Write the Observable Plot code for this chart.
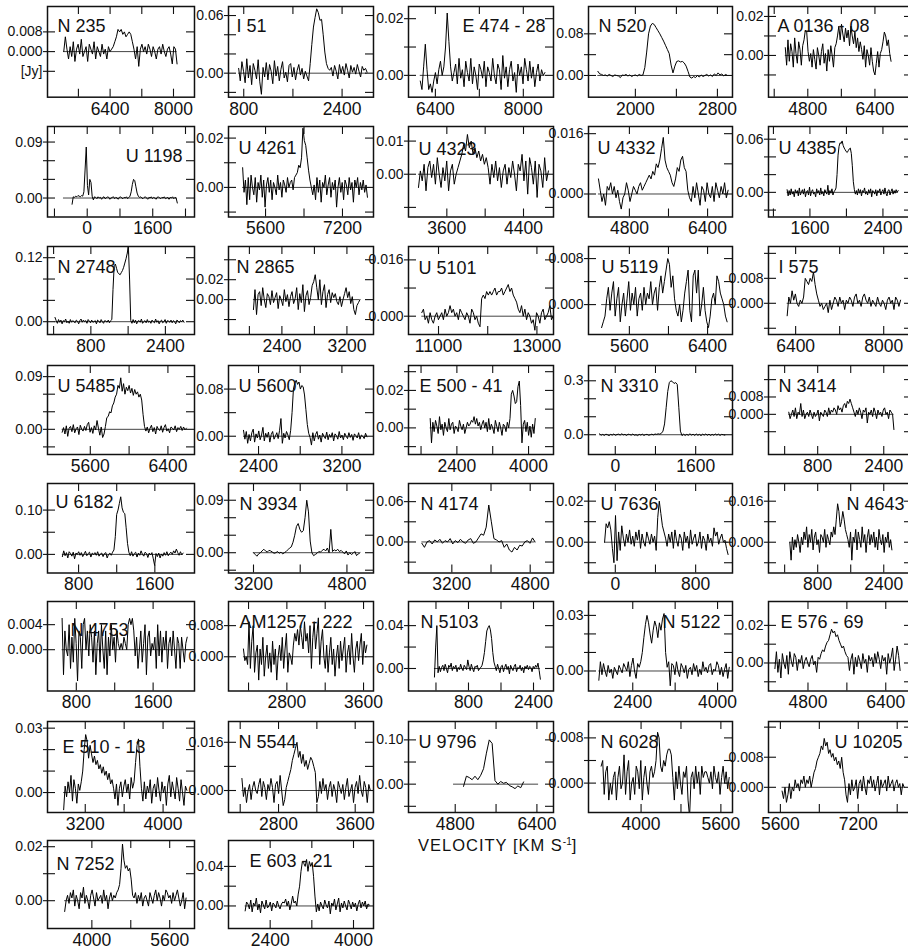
<!DOCTYPE html>
<html><head><meta charset="utf-8">
<script src="https://cdn.jsdelivr.net/npm/d3@7"></script>
<script src="https://cdn.jsdelivr.net/npm/@observablehq/plot@0.6"></script>
<style>
html,body{margin:0;padding:0;background:#fff;}
#chart{position:relative;width:908px;height:952px;overflow:hidden;background:#fff;font-family:'Liberation Sans',Arial,Helvetica,sans-serif;}
#chart svg{position:absolute;overflow:visible;background:transparent;}
#vlabel{position:absolute;left:418px;top:836px;font-size:16.5px;letter-spacing:1px;color:#111;white-space:nowrap;}
#vlabel sup{font-size:10px;vertical-align:6px;letter-spacing:0;}
</style></head>
<body><div id="chart"><div id="vlabel">VELOCITY [KM S<sup>-1</sup>]</div></div>
<script>
// ---------- galaxy names (panel order, row by row) ----------
const names = ["N 235","I 51","E 474 - 28","N 520","A 0136 - 08",
  "U 1198","U 4261","U 4323","U 4332","U 4385",
  "N 2748","N 2865","U 5101","U 5119","I 575",
  "U 5485","U 5600","E 500 - 41","N 3310","N 3414",
  "U 6182","N 3934","N 4174","U 7636","N 4643",
  "N 4753","AM1257 - 222","N 5103","N 5122","E 576 - 69",
  "E 510 - 13","N 5544","U 9796","N 6028","U 10205",
  "N 7252","E 603 - 21"];

// ---------- velocity coverage of each spectrum (km/s) ----------
const velStart = [5230,717,6125,1634,4264, -370,5124,3304,4167,1350, 30,2050,10660,5316,6246,
  5310,2256,1804,-313,100, 630,3200,2588,-107,125, 652,2347,-37,1760,4120,
  2978,2418,4963,3200,5635, 3441,1920];
const velEnd = [8090,2807,8393,2898,6784, 2200,7719,4660,6820,2567, 2800,3361,13330,6600,8306,
  6590,3440,4150,2180,2646, 1897,5024,4900,1123,2597, 1955,3635,2569,4221,6695,
  4245,3758,6139,5767,8143, 5937,4305];

// ---------- flux densities (mJy), read channel by channel from the figure ----------
const fluxN235 = [0,6,1,-3,2,-2,4,-4,1,3,-1,5,-2,0,2,-4,3,1,-1,4,-3,2,0,-2,3,-1,1,-3,2,0,1,2,4,6,9,8,9,7,8,6,7,8,7,4,1,-3,2,-6,1,3,0,2,-1,3,1,-2,2,0,-3,1,2,-1,3,0,-2,1,2,-1,-5,2,1,-5];
const fluxI51 = [5,-8,12,2,-10,15,-5,8,-12,10,3,-6,14,-9,-22,6,-4,11,-7,9,2,-11,13,-3,7,-8,4,12,-5,1,-9,8,10,-4,6,-7,3,9,-2,5,-6,2,-3,-8,10,30,48,58,67,63,55,56,40,22,10,5,3,6,-3,8,2,-6,9,0,7,-2,10,3,-5,8,1,6,-1,9,2,-4,7,3,5,1];
const fluxE474 = [-2,-5,3,11,2,-5,-3,-6,-2,1,-3,2,5,0,3,10,22,12,3,-2,1,4,-3,6,-1,2,-4,5,1,-2,6,-3,3,0,-5,4,2,-1,5,-4,3,1,-2,6,0,-3,4,2,-5,7,-1,3,-4,2,5,-2,1,-6,4,0,3,-3,6,2,-2,5,-1,3,-4,1,4,-2,2,0,1];
const fluxN520 = [8,3,2,0,1,-1,2,0,-2,1,0,-1,-4,1,0,2,-1,1,-2,0,1,-1,2,0,1,15,45,80,95,100,98,92,86,80,73,66,58,50,42,20,5,18,27,28,26,27,24,18,8,-3,-5,-2,-4,0,-3,1,-2,0,2,-1,1,-2,3,0,5,1,3,-1,2,0];
const fluxA0136 = [4,-5,8,-3,6,2,-6,9,1,-4,7,3,-5,5,8,13,12,2,-3,1,-6,3,-2,-7,4,0,-5,2,6,-4,1,-8,3,-3,5,0,-6,4,6,10,15,8,16,11,7,14,9,13,5,15,10,6,12,4,9,2,7,3,-2,5,-6,3,0,-5,4,-3,-8,-10,-4,2,-6,1,3,7,12,10,5,8,1,-3];
const fluxU1198 = [-10,2,1,3,2,4,3,2,4,3,10,45,82,20,5,30,25,3,-3,2,1,-1,2,0,1,-2,1,2,-1,0,2,1,-2,0,1,2,-1,1,0,-2,1,2,0,-1,1,0,2,-1,1,3,10,22,30,28,18,8,3,1,2,0,-1,1,2,0,-2,1,0,2,-1,1,0,-2,1,2,0,-1,1,0,2,-1,0,1,-2,1,0,2,-1,1,0,-8];
const fluxU4261 = [8,-2,3,-7,4,-5,5,0,-3,4,-6,2,-1,5,-4,3,-8,1,4,-2,3,-5,2,0,-3,5,-1,2,-4,3,1,-2,4,0,2,3,-1,4,5,6,9,8,12,24,19,17,12,7,3,0,-3,1,-5,4,-2,3,-6,2,0,5,-3,1,4,-4,2,-1,3,-8,0,4,-2,2,-5,3,1,-3,4,-1,2,-6,3,0,4,-3,2,-1,3,-2,1,-4];
const fluxU4323 = [-4,1,-2,3,-5,2,4,-1,3,-3,5,0,-4,2,-2,4,-5,1,3,-3,0,2,4,6,9,7,12,8,10,6,8,5,7,4,6,3,5,2,-3,3,-1,4,-2,2,-4,1,3,-3,2,-1,4,0,-5,3,1,6,-2,4,-6,5,2,-3,4,-7,3,1,-4,5,-2,1];
const fluxU4332 = [4,1,-2,0,-3,2,1,3,0,2,-1,1,-2,-4,-1,0,3,1,-2,0,2,1,0,2,3,1,2,3,4,5,4,6,5,8,7,9,12,15,9,7,6,5,3,2,4,7,6,9,10,7,6,1,-1,-2,2,-1,3,0,-3,2,1,-2,3,0,-1,2,-2,3,1,-1,2,0,3,-1,1];
const fluxU4385 = [3,-4,2,-3,4,-2,1,-5,3,-1,2,-4,5,-3,0,3,-2,4,-5,1,2,-3,6,-4,1,3,-2,0,-5,4,-1,2,-3,5,-2,1,-4,3,0,-2,8,-3,2,-1,4,-3,1,2,5,20,42,52,56,55,58,53,50,48,46,45,47,49,50,44,30,12,3,-2,2,-3,4,-1,3,-4,2,0,5,-2,1,-3,3,-1,4,-5,2,1,-2,3,-4,2,0,4,-3,1,3,-2,5,-1,-4,2,3,-3,1,4,-2,2,-1,3,0,2];
const fluxN2748 = [8,2,-3,4,-1,3,-4,2,0,5,-2,1,-3,4,-1,2,0,-2,3,1,-4,2,5,-1,3,0,2,-3,4,1,-2,3,-1,0,2,-4,3,1,-2,4,0,-3,2,1,-1,3,-2,2,4,60,105,108,100,92,90,88,92,96,102,110,118,128,141,80,2,-3,4,-2,3,-4,1,2,-1,5,-3,0,2,-2,4,-1,1,-3,3,0,-2,5,-1,2,-4,1,3,-2,0,4,-3,2,1,-1,3,-2,2,0,-4,3,1,-2,2,0,3,-1];
const fluxN2865 = [-10,10,-15,5,8,-6,12,0,-8,6,3,-5,9,-3,2,7,-9,4,0,-6,10,-2,5,-7,3,8,-4,1,12,-10,6,-3,15,-12,4,9,-5,2,14,18,25,12,0,20,-5,8,15,-8,5,10,-3,7,2,6,-2,-5,3,-7,0,6,12,2,8,-4,3,-10,-15,-6,-3,0];
const fluxU5101 = [1,2,-1,0,-2,1,-1,-2,0,1,-1,0,1,-1,2,0,1,3,1,2,0,1,-1,2,1,0,-1,1,0,-2,2,1,-1,0,-2,-3,5,6,5,7,6,7,6,7,8,6,7,7,8,6,7,8,9,7,8,6,5,4,2,1,3,0,2,-1,1,0,-2,-1,-4,1,0,-2,1,2,-1,0,1,3,-1,0];
const fluxU5119 = [-4,-3,-2,1,3,-1,2,4,-2,1,3,-3,0,2,-2,1,4,-1,2,0,3,-2,1,2,-1,3,0,2,1,4,0,2,3,-1,3,5,2,4,6,8,7,3,5,1,-1,-2,0,-3,-1,2,4,6,-1,-3,5,6,2,6,-2,0,3,-1,-3,-4,-2,1,2,0,5,4,2,1,0,-2,-3];
const fluxI575 = [-4,2,0,4,1,3,0,-1,1,0,2,8,7,6,8,7,10,6,3,1,-1,0,-2,-1,0,-3,1,-2,0,2,1,-1,2,0,1,-2,1,0,2,1,-1,2,3,0,1,-1,2,3,1,0,2,-1,1,0,-1,2,0,-1,1,0,-2,1,2,0,1,-2,2,1,-1,1];
const fluxU5485 = [-5,3,-8,6,-12,2,5,-4,8,-6,1,4,-9,7,0,-3,5,-2,8,12,-5,3,-7,6,-1,15,2,-10,4,-14,-8,5,20,22,30,28,40,45,55,60,75,70,88,65,78,60,72,66,75,62,70,58,68,60,64,55,60,50,25,5,-3,4,-6,2,7,-4,3,-8,5,0,-2,6,-5,3,8,-3,1,-6,4,2,-1,6,-4,3,0,5,-2,4,-1,2];
const fluxU5600 = [10,-5,8,-12,3,-8,6,12,-10,4,-3,9,-6,2,15,-8,5,-2,7,-10,3,8,-5,0,6,-4,10,30,-12,5,-3,8,2,-6,10,40,80,90,95,88,92,80,86,84,70,45,20,5,-2,-15,6,-8,3,8,-5,2,-10,5,0,-4,7,-6,3,-2,6,-8,4,1,-5,8,-3,2,-6,5,0,-4,6,-2,3,-7,4,1,-3,6,-5,2,0,-4,5,-1];
const fluxE500 = [5,-8,3,-2,4,1,-3,6,-1,2,-4,3,0,-2,5,-1,2,3,-3,1,0,-2,4,1,-1,2,-3,0,3,1,2,4,3,6,2,5,1,3,-1,2,4,0,3,-2,5,-1,2,0,-3,4,1,-2,3,0,-4,2,1,-2,3,0,5,18,20,17,13,14,22,25,12,-8,2,4,-2,3,-4,1,-5,2,-3,5];
const fluxN3310 = [5,-3,2,-4,3,0,-5,2,-2,4,-3,1,3,-2,5,-1,2,-4,3,1,-2,4,-3,0,-5,2,-2,3,-4,1,2,-3,0,3,-1,4,2,5,3,8,20,60,150,240,290,300,295,285,290,280,150,20,-5,3,-4,2,-3,5,-2,3,-4,4,-3,2,-5,3,-2,4,-3,3,-4,2,-3,4,-2,3,-4,2,0,-2];
const fluxN3414 = [1,-2,0,2,-1,3,-2,1,0,5,-1,2,-2,0,1,-1,2,0,-2,1,-1,0,2,-3,1,0,-1,2,1,-1,3,0,2,1,3,2,0,4,2,3,1,4,5,3,6,5,7,5,3,1,-1,2,0,3,1,-2,2,1,3,-4,1,0,2,-1,3,1,-2,2,0,1,-1,2,3,0,1,-2,2,1,0,-7];
const fluxU6182 = [-5,8,-3,4,-8,6,2,-4,5,-10,3,0,6,-2,4,-5,1,7,-3,2,5,-6,3,0,4,-2,6,-4,1,3,-5,2,4,-8,0,3,-2,5,10,40,90,100,115,130,105,95,92,60,25,5,-3,6,-4,2,5,-6,3,-2,8,0,-4,5,2,-7,3,-1,4,-10,-25,2,-5,3,-8,1,-4,4,-2,6,-3,2,5,0,8,3,12,4,-2,6,-1,3];
const fluxN3934 = [0,-3,-6,-2,0,3,6,3,1,4,3,1,-1,0,2,-1,1,-2,0,2,5,8,10,18,30,45,50,40,35,38,60,90,70,20,0,-5,-3,-1,2,1,4,6,3,8,0,40,2,5,3,6,2,4,1,-2,3,-4,0,-3,-1,2,-5,-2,0];
const fluxN4174 = [-2,-8,0,2,-3,3,0,4,-2,2,0,5,-3,2,-1,4,0,-2,3,5,-2,0,6,12,10,22,55,30,5,3,0,2,-8,-3,-12,-15,-8,-12,-5,-6,0,2,-2,6,0];
const fluxU7636 = [0,9,7,10,6,-3,-10,13,-9,5,-4,8,2,-2,4,0,6,-1,3,-2,5,1,6,-3,4,0,-2,5,2,-1,4,0,3,-4,12,20,14,8,5,2,-2,4,0,5,-3,6,1,-2,4,2,-4,5,0,3,-3,6,-1,2,4,-2,0,5,-3,3,1,-4,4,0,2,-2,7,3,5,-1,2,4,0,1,-3,-6];
const fluxN4643 = [0,-7,2,-3,1,-2,3,0,-4,2,-1,4,1,6,-2,3,0,5,-3,2,4,-1,1,-4,3,2,0,5,-2,3,1,-1,4,2,6,3,9,15,12,6,8,12,9,5,3,1,-2,4,-7,2,0,5,-3,4,1,-2,6,0,3,-4,2,5,-1,3,0,4,-2,2,-3,5,1,-1,3,-4,2,0,4,-2,1,-3];
const fluxN4753 = [5,-4,3,0,-1,4,-3,2,-2,5,1,-5,3,2,-3,4,5,0,3,-1,4,2,-2,3,-4,1,3,-2,4,0,-3,3,-4,2,-1,4,0,2,-2,3,1,0,1,0,2,1,0,4,5,4,5,3,-1,2,-3,0,3,-2,1,4,-4,2,3,-1,1,0,2,-3,4,-1,3,-2,2,0,3,-3,1,2,-1,3,0,-3,2,1,-3,2,0,-2,1,2];
const fluxAM1257 = [2,-1,0,-2,9,-3,4,8,-4,1,3,-6,2,-2,5,-5,0,3,-3,1,-4,4,-2,2,-6,0,3,-1,5,-3,2,6,-4,1,0,-2,3,6,4,7,3,8,5,2,9,4,6,1,8,-3,5,9,2,6,10,-2,4,7,0,-3,3,-4,1,5,-2,2,-5,0,3,-3,4,-1,2,5,-4,1,3,-2,6,0,-4,2,4,-1,3,6,-2,4,1,3];
const fluxN5103 = [-8,20,40,-4,2,-3,1,3,-2,4,0,-4,3,1,5,-2,2,0,3,-3,1,-1,4,0,-2,3,1,-1,8,2,-2,4,0,-3,2,1,3,-2,0,1,3,8,15,25,35,38,40,36,28,15,6,2,-2,4,0,-4,2,3,-3,1,4,-1,2,-5,3,0,-2,2,4,-3,1,0,3,-2,1,-4,2,0,3,-1,2,1,-3,2,0,3,1,5,-2,-10];
const fluxN5122 = [-5,5,-2,4,0,-3,3,-1,1,-4,2,0,-2,3,1,-1,4,2,0,5,-3,3,7,0,-4,4,2,5,10,18,25,30,26,20,15,22,27,24,18,26,22,28,31,10,2,5,-8,4,3,-2,5,0,-3,4,2,-1,3,-4,1,2,-2,4,0,3,-3,1,-2,5,0,2,-1,3,4,-2,1,0,5,3,-2,2,-3,1,4,-4,2];
const fluxE576 = [-3,6,-5,2,-8,5,0,-3,4,-6,6,1,-2,5,3,-4,2,0,4,-3,1,3,0,-2,2,4,-1,1,-5,3,2,5,7,6,9,11,12,15,18,16,17,14,15,12,10,8,9,6,4,3,-4,2,5,-6,3,-2,4,1,-3,5,0,2,-5,4,1,3,-2,5,0,6,2,-3,4,1,3,-6,5,0,3,8,-4,2,9,4,-4];
const fluxE510 = [-8,3,-2,5,0,8,-4,6,2,-5,4,1,5,10,20,27,24,16,22,18,14,17,13,15,11,13,9,12,8,10,6,9,4,6,2,-3,4,-6,2,5,-2,3,6,0,4,-3,7,2,5,14,22,25,12,2,-4,5,-3,3,0,6,-5,2,4,-2,7,1,-4,5,0,3,-6,4,8,-2,5,1,-3,7,2,-4,6,0,-6,3,1];
const fluxN5544 = [4,-2,1,-4,0,2,-3,1,3,0,-1,2,4,-2,3,1,-3,2,0,4,1,-4,2,3,-1,5,0,-5,-3,1,3,5,7,10,12,14,16,11,13,9,12,8,10,7,9,11,10,8,6,-4,-2,3,-1,4,0,2,-3,1,3,-2,2,0,-4,3,1,-1,2,-3,1,4,-2,0,2,-4,1,3,-1,5,0,-2,3,1,-4,2,0];
const fluxU9796 = [-5,18,15,10,18,10,20,35,70,100,92,8,0,6,2,4,-3,-6,-10,-4,-8,5];
const fluxN6028 = [3,4,-2,2,3,-3,0,-2,1,2,-3,1,3,-1,0,5,-2,2,4,-3,0,1,-2,3,2,-1,4,-3,1,3,0,-2,2,3,1,2,4,9,8,3,2,4,3,5,6,6,5,1,-3,2,-1,3,0,-2,2,1,3,-3,-6,1,2,-1,3,0,2,-2,3,1,2,2,1,0,2,-1,3,1,0,2,-2,1,3,0,2,-1,1];
const fluxU10205 = [-1,-3,0,-4,-2,1,-3,0,-1,2,0,1,-1,2,1,3,0,2,1,3,0,2,4,5,7,8,9,11,10,13,11,12,9,10,8,9,7,8,6,7,5,8,4,2,-2,-4,1,-2,2,-1,0,2,-3,1,2,-1,3,0,-2,2,1,3,0,2,-1,1,3,-2,2,0,1,2,-1,3,0,1,2,-1,1,2,0,1,-2,1,0];
const fluxN7252 = [-4,0,2,-1,3,1,4,-2,2,0,-3,3,1,5,-1,2,0,-3,2,4,1,-2,3,0,1,2,-1,4,0,2,-3,1,3,0,2,1,3,4,6,12,21,15,12,13,11,12,8,2,1,3,-1,2,0,3,-2,1,2,0,-2,3,1,-1,2,4,0,3,1,-2,2,0,4,3,1,2,-1,3,0,2,4,1,-2,0,3,-3,1];
const fluxE603 = [-5,4,2,-3,6,-6,3,0,8,-4,2,-7,5,1,-3,6,-2,0,4,-5,3,1,-2,5,0,-3,2,4,3,7,0,5,-4,2,10,3,5,0,12,20,35,45,43,40,47,35,45,40,44,30,10,-6,2,-5,4,0,-3,6,1,-2,5,-8,3,0,7,-4,2,8,-6,3,-2,5,0,-4,6,2,-3,4,-1,3,-5,2,6,-2,4,0,5,-3,2,1];

const fluxes = [fluxN235,fluxI51,fluxE474,fluxN520,fluxA0136,
  fluxU1198,fluxU4261,fluxU4323,fluxU4332,fluxU4385,
  fluxN2748,fluxN2865,fluxU5101,fluxU5119,fluxI575,
  fluxU5485,fluxU5600,fluxE500,fluxN3310,fluxN3414,
  fluxU6182,fluxN3934,fluxN4174,fluxU7636,fluxN4643,
  fluxN4753,fluxAM1257,fluxN5103,fluxN5122,fluxE576,
  fluxE510,fluxN5544,fluxU9796,fluxN6028,fluxU10205,
  fluxN7252,fluxE603];

// zero-line extent where it differs from the spectrum coverage
const zeroRange = [null,null,null,null,null, [-580,2200],null,null,null,null,
  null,null,null,null,null, null,null,null,null,null, null,null,null,null,null,
  null,null,null,null,null, null,null,[4767,6433],null,null, null,null];

// ---------- axes ----------
const xDomains = [[4820,8530],[552,2911],[5911,8549],[1543,2947],[3864,7295],
  [-970,2620],[4830,7845],[3200,4713],[3963,6910],[1146,2724],
  [-131,3025],[1743,3527],[10390,13337],[5182,6655],[5907,8523],
  [5159,6674],[2112,3503],[1320,4557],[-533,2333],[-391,3096],
  [474,2016],[2772,5255],[2315,5276],[-267,1167],[-391,3096],
  [500,2031],[2191,3704],[-676,2892],[1565,4282],[3988,6950],
  [2812,4323],[2278,3791],[3885,6725],[2946,5833],[5356,8314],
  [3088,6110],[1600,4384]];
const xTicks = [[5600,6400,7200,8000],[800,1600,2400],[6400,7200,8000],[2000,2400,2800],[4000,4800,5600,6400],
  [-800,0,800,1600,2400],[5600,6400,7200],[3600,4000,4400],[4800,5600,6400],[1200,1600,2000,2400],
  [0,800,1600,2400],[2000,2400,2800,3200],[11000,12000,13000],[5600,6000,6400],[6400,7200,8000],
  [5600,6000,6400],[2400,2800,3200],[1600,2400,3200,4000],[0,800,1600],[0,800,1600,2400],
  [800,1200,1600],[3200,4000,4800],[3200,4000,4800],[0,400,800],[0,800,1600,2400],
  [800,1200,1600],[2400,2800,3200,3600],[0,800,1600,2400],[2400,3200,4000],[4800,5600,6400],
  [3200,3600,4000],[2400,2800,3200,3600],[4800,5600,6400],[4000,4800,5600],[5600,6400,7200,8000],
  [4000,4800,5600],[2400,3200,4000]];
const xLabels = [[6400,8000],[800,2400],[6400,8000],[2000,2800],[4800,6400],
  [0,1600],[5600,7200],[3600,4400],[4800,6400],[1600,2400],
  [800,2400],[2400,3200],[11000,13000],[5600,6400],[6400,8000],
  [5600,6400],[2400,3200],[2400,4000],[0,1600],[800,2400],
  [800,1600],[3200,4800],[3200,4800],[0,800],[800,2400],
  [800,1600],[2800,3600],[800,2400],[2400,4000],[4800,6400],
  [3200,4000],[2800,3600],[4800,6400],[4000,5600],[5600,7200],
  [4000,5600],[2400,4000]];
const yDomains = [[-18.5,18.3],[-25,69.4],[-7.7,24.3],[-41.7,132.5],[-21.4,25.1],
  [-30.5,115],[-12,24.7],[-12.9,14.4],[-6.1,17.9],[-27.8,74.3],
  [-24,141],[-35,53.3],[-5.2,19.8],[-5.2,10.1],[-10,18.2],
  [-43,109],[-31,120],[-14.2,33.3],[-110,385],[-18.5,22.5],
  [-42,160],[-34.8,118.7],[-46.2,87],[-15,28.6],[-12,22.9],
  [-6.6,7.7],[-8.8,14.2],[-21,62.5],[-10.8,37.5],[-14.9,32.7],
  [-9.3,33.1],[-7.3,22.9],[-64,141.5],[-5.2,10.9],[-6.7,17.5],
  [-10.3,22.3],[-22.8,66.2]];
const yTicks = [[-8,0,8],[-20,0,20,40,60],[0,10,20],[0,40,80],[-10,0,10,20],
  [0,30,60,90],[-10,0,10,20],[-10,0,10],[0,8,16],[-20,0,20,40,60],
  [0,40,80,120],[-20,0,20,40],[0,8,16],[0,4,8],[-8,0,8,16],
  [-30,0,30,60,90],[0,40,80],[-10,0,10,20,30],[0,100,200,300],[-8,0,8,16],
  [0,50,100],[-30,0,30,60,90],[-30,0,30,60],[-10,0,10,20],[-8,0,8,16],
  [0,4],[0,8],[0,20,40],[0,10,20,30],[-10,0,10,20],
  [0,10,20,30],[0,8,16],[-50,0,50,100],[0,4,8],[0,8,16],
  [0,10,20],[0,20,40]];
const yLabelValues = [[-8,0,8],[0,60],[0,20],[0,80],[0,20],
  [0,90],[0,20],[0,10],[0,16],[0,60],
  [0,120],[0,20],[0,16],[0,8],[0,8],
  [0,90],[0,80],[0,20],[0,300],[0,8],
  [0,100],[0,90],[0,60],[0,20],[0,16],
  [0,4],[0,8],[0,40],[0,30],[0,20],
  [0,30],[0,16],[0,100],[0,8],[0,8],
  [0,20],[0,40]];
const yLabelText = [["[Jy]","0.000","0.008"],["0.00","0.06"],["0.00","0.02"],["0.00","0.08"],["0.00","0.02"],
  ["0.00","0.09"],["0.00","0.02"],["0.00","0.01"],["0.000","0.016"],["0.00","0.06"],
  ["0.00","0.12"],["0.00","0.02"],["0.000","0.016"],["0.000","0.008"],["0.000","0.008"],
  ["0.00","0.09"],["0.00","0.08"],["0.00","0.02"],["0.0","0.3"],["0.000","0.008"],
  ["0.00","0.10"],["0.00","0.09"],["0.00","0.06"],["0.00","0.02"],["0.000","0.016"],
  ["0.000","0.004"],["0.000","0.008"],["0.00","0.04"],["0.00","0.03"],["0.00","0.02"],
  ["0.00","0.03"],["0.000","0.016"],["0.00","0.10"],["0.000","0.008"],["0.000","0.008"],
  ["0.00","0.02"],["0.00","0.04"]];

// ---------- layout (page pixels) ----------
const colLeft = [47,228.3,408.3,587.5,768.3];
const colW = [147,145,145,144,144];
const rowTop = [6,125.5,246,365,482.5,601.3,720.5,840];
const rowH = [90.7,90.5,88,89,89.5,89.5,91,88];
const labelEnd = new Set([2,5,24,28,34]);
const labelDx = [10,8,8,10,9, 12,10,10,9,10, 10,8,10,13,10, 10,10,11,12,10, 8,11,12,12,8, 23,11,12,12,12, 15,10,10,12,10, 9,21];
const labelDy = [26,26,26,26,26, 35,27,28,27,27, 26,26,27,26,26, 26,26,26,26,26, 24,26,26,26,26, 34,26,26,26,26, 31,26,26,26,26, 29,26];

const FONT = "'Liberation Sans', Arial, Helvetica, sans-serif";
const INK = "#111";
const chart = document.getElementById("chart");
const mL = 56, mR = 6, mT = 6, mB = 30;

names.forEach((name, i) => {
  const row = Math.floor(i / 5), col = i % 5;
  const W = colW[col], H = rowH[row];
  const flux = fluxes[i], n = flux.length;
  const v0 = velStart[i], v1 = velEnd[i];
  const pts = flux.map((f, k) => ({v: v0 + (v1 - v0) * k / (n - 1), f}));
  const zr = zeroRange[i] || [v0, v1];
  const lab = new Map(yLabelValues[i].map((v, k) => [v, yLabelText[i][k]]));
  const end = labelEnd.has(i);
  const tickStyle = {stroke: INK, strokeWidth: 1.1};
  const svg = Plot.plot({
    width: mL + W + mR, height: mT + H + mB,
    marginLeft: mL, marginRight: mR, marginTop: mT, marginBottom: mB,
    style: {background: "transparent", fontFamily: FONT, color: INK, overflow: "visible"},
    x: {domain: xDomains[i], label: null},
    y: {domain: yDomains[i], label: null},
    marks: [
      Plot.ruleY([{y: 0, a: zr[0], b: zr[1]}], {y: "y", x1: "a", x2: "b", stroke: "#444", strokeWidth: 1}),
      Plot.line(pts, {x: "v", y: "f", stroke: "#000", strokeWidth: 1, clip: true}),
      Plot.frame({stroke: INK, strokeWidth: 1.5}),
      Plot.ruleX(xTicks[i], {x: d => d, insetBottom: H - 8, ...tickStyle}),
      Plot.ruleX(xTicks[i], {x: d => d, insetTop: H - 8, ...tickStyle}),
      Plot.ruleY(yTicks[i], {y: d => d, insetLeft: -4, insetRight: W - 8, ...tickStyle}),
      Plot.ruleY(yTicks[i], {y: d => d, insetLeft: W - 8, ...tickStyle}),
      Plot.axisX(xLabels[i], {tickSize: 0, tickPadding: 5, fontSize: 17.5, tickFormat: d => String(d), label: null}),
      Plot.axisY(yLabelValues[i], {tickSize: 0, tickPadding: 5, fontSize: 14, tickFormat: d => lab.get(d), label: null}),
      Plot.text([name], {text: d => d, frameAnchor: end ? "top-right" : "top-left",
        textAnchor: end ? "end" : "start", dx: end ? -labelDx[i] : labelDx[i], dy: labelDy[i],
        lineAnchor: "bottom", fontSize: 18, fill: INK})
    ]
  });
  svg.style.left = (colLeft[col] - mL) + "px";
  svg.style.top = (rowTop[row] - mT) + "px";
  chart.appendChild(svg);
});
</script>
</body></html>
